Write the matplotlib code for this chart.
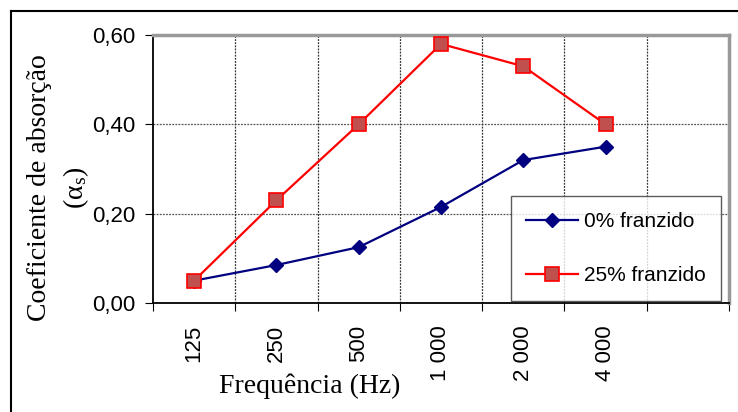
import matplotlib
matplotlib.use("Agg")
import matplotlib.pyplot as plt
from matplotlib.lines import Line2D

categories = ["125", "250", "500", "1 000", "2 000", "4 000"]
s0_label = "0% franzido"
s0_values = [0.05, 0.085, 0.125, 0.215, 0.32, 0.35]
s25_label = "25% franzido"
s25_values = [0.05, 0.23, 0.40, 0.58, 0.53, 0.40]
yticks = [0.0, 0.2, 0.4, 0.6]
ytick_labels = ["0,00", "0,20", "0,40", "0,60"]

plt.rcParams["mathtext.fontset"] = "custom"
plt.rcParams["mathtext.rm"] = "Liberation Serif"
plt.rcParams["mathtext.it"] = "Liberation Serif:italic"

W, H = 738, 412
fig = plt.figure(figsize=(W / 100, H / 100), dpi=100)
L, R, T, B = 153, 729, 35, 303
ax = fig.add_axes([L / W, 1 - B / H, (R - L) / W, (B - T) / H])

n_slots = len(categories) + 1
xs = [i + 0.5 for i in range(len(categories))]

ax.plot(xs, s0_values, color="#000080", lw=1.6, marker="D", ms=7.5,
        mfc="#000080", mec="#000080", label=s0_label, zorder=4)
ax.plot(xs, s25_values, color="#ff0000", lw=1.6, marker="s", ms=10,
        mfc="#c0504d", mec="#ff0000", mew=1.2, label=s25_label, zorder=4)

ax.set_xlim(0, n_slots)
ax.set_ylim(0, 0.6)
ax.set_yticks(yticks)
ax.set_yticklabels(ytick_labels, family="Liberation Sans", fontsize=16)

ax.set_xticks(range(n_slots + 1))
ax.set_xticklabels([])
ax.set_xticks(xs, minor=True)
ax.set_xticklabels(categories, minor=True, rotation=90, family="Liberation Sans", fontsize=16)
ax.tick_params(axis="x", which="minor", length=0, pad=16)
ax.tick_params(axis="x", which="major", length=6, direction="out", color="black")
ax.tick_params(axis="y", length=6, direction="out", pad=7)

for y in [0.2, 0.4]:
    ax.axhline(y, color="#555555", lw=0.9, ls=(0, (1.5, 1)), zorder=1)
for x in range(1, n_slots):
    ax.axvline(x, color="#333333", lw=0.9, ls=(0, (1.5, 1)), zorder=1)

ax.spines["left"].set_color("black")
ax.spines["bottom"].set_color("black")
ax.spines["left"].set_linewidth(1.3)
ax.spines["bottom"].set_linewidth(1.3)
ax.spines["top"].set_color("#999999")
ax.spines["right"].set_color("#999999")
ax.spines["top"].set_linewidth(2.5)
ax.spines["right"].set_linewidth(2.5)

fig.text(40 / W, 1 - 188 / H, "Coeficiente de absorção", family="Liberation Serif",
         fontsize=20, rotation=90, ha="center", va="center")
fig.text(76 / W, 1 - 188 / H, r"(α$_\mathrm{s}$)", family="Liberation Serif",
         fontsize=20, rotation=90, ha="center", va="center")
fig.text(310 / W, 1 - 386 / H, "Frequência (Hz)",
         family="Liberation Serif", fontsize=20, ha="center", va="center")

leg = ax.legend(loc="lower right", bbox_to_anchor=((721 - L) / (R - L), (B - 301) / (B - T)),
                frameon=True, fancybox=False, prop={"family": "Liberation Sans", "size": 15},
                labelspacing=1.7, borderpad=0.75, handlelength=2.5, handletextpad=0.25,
                borderaxespad=0)
leg.get_frame().set_edgecolor("#333333")
leg.get_frame().set_linewidth(1.0)

fig.add_artist(Line2D([11 / W, 1], [1 - 11 / H, 1 - 11 / H], color="black", lw=1.5,
                      transform=fig.transFigure))
fig.add_artist(Line2D([11 / W, 11 / W], [0, 1 - 11 / H], color="black", lw=1.5,
                      transform=fig.transFigure))

fig.savefig("out.png", dpi=100)
